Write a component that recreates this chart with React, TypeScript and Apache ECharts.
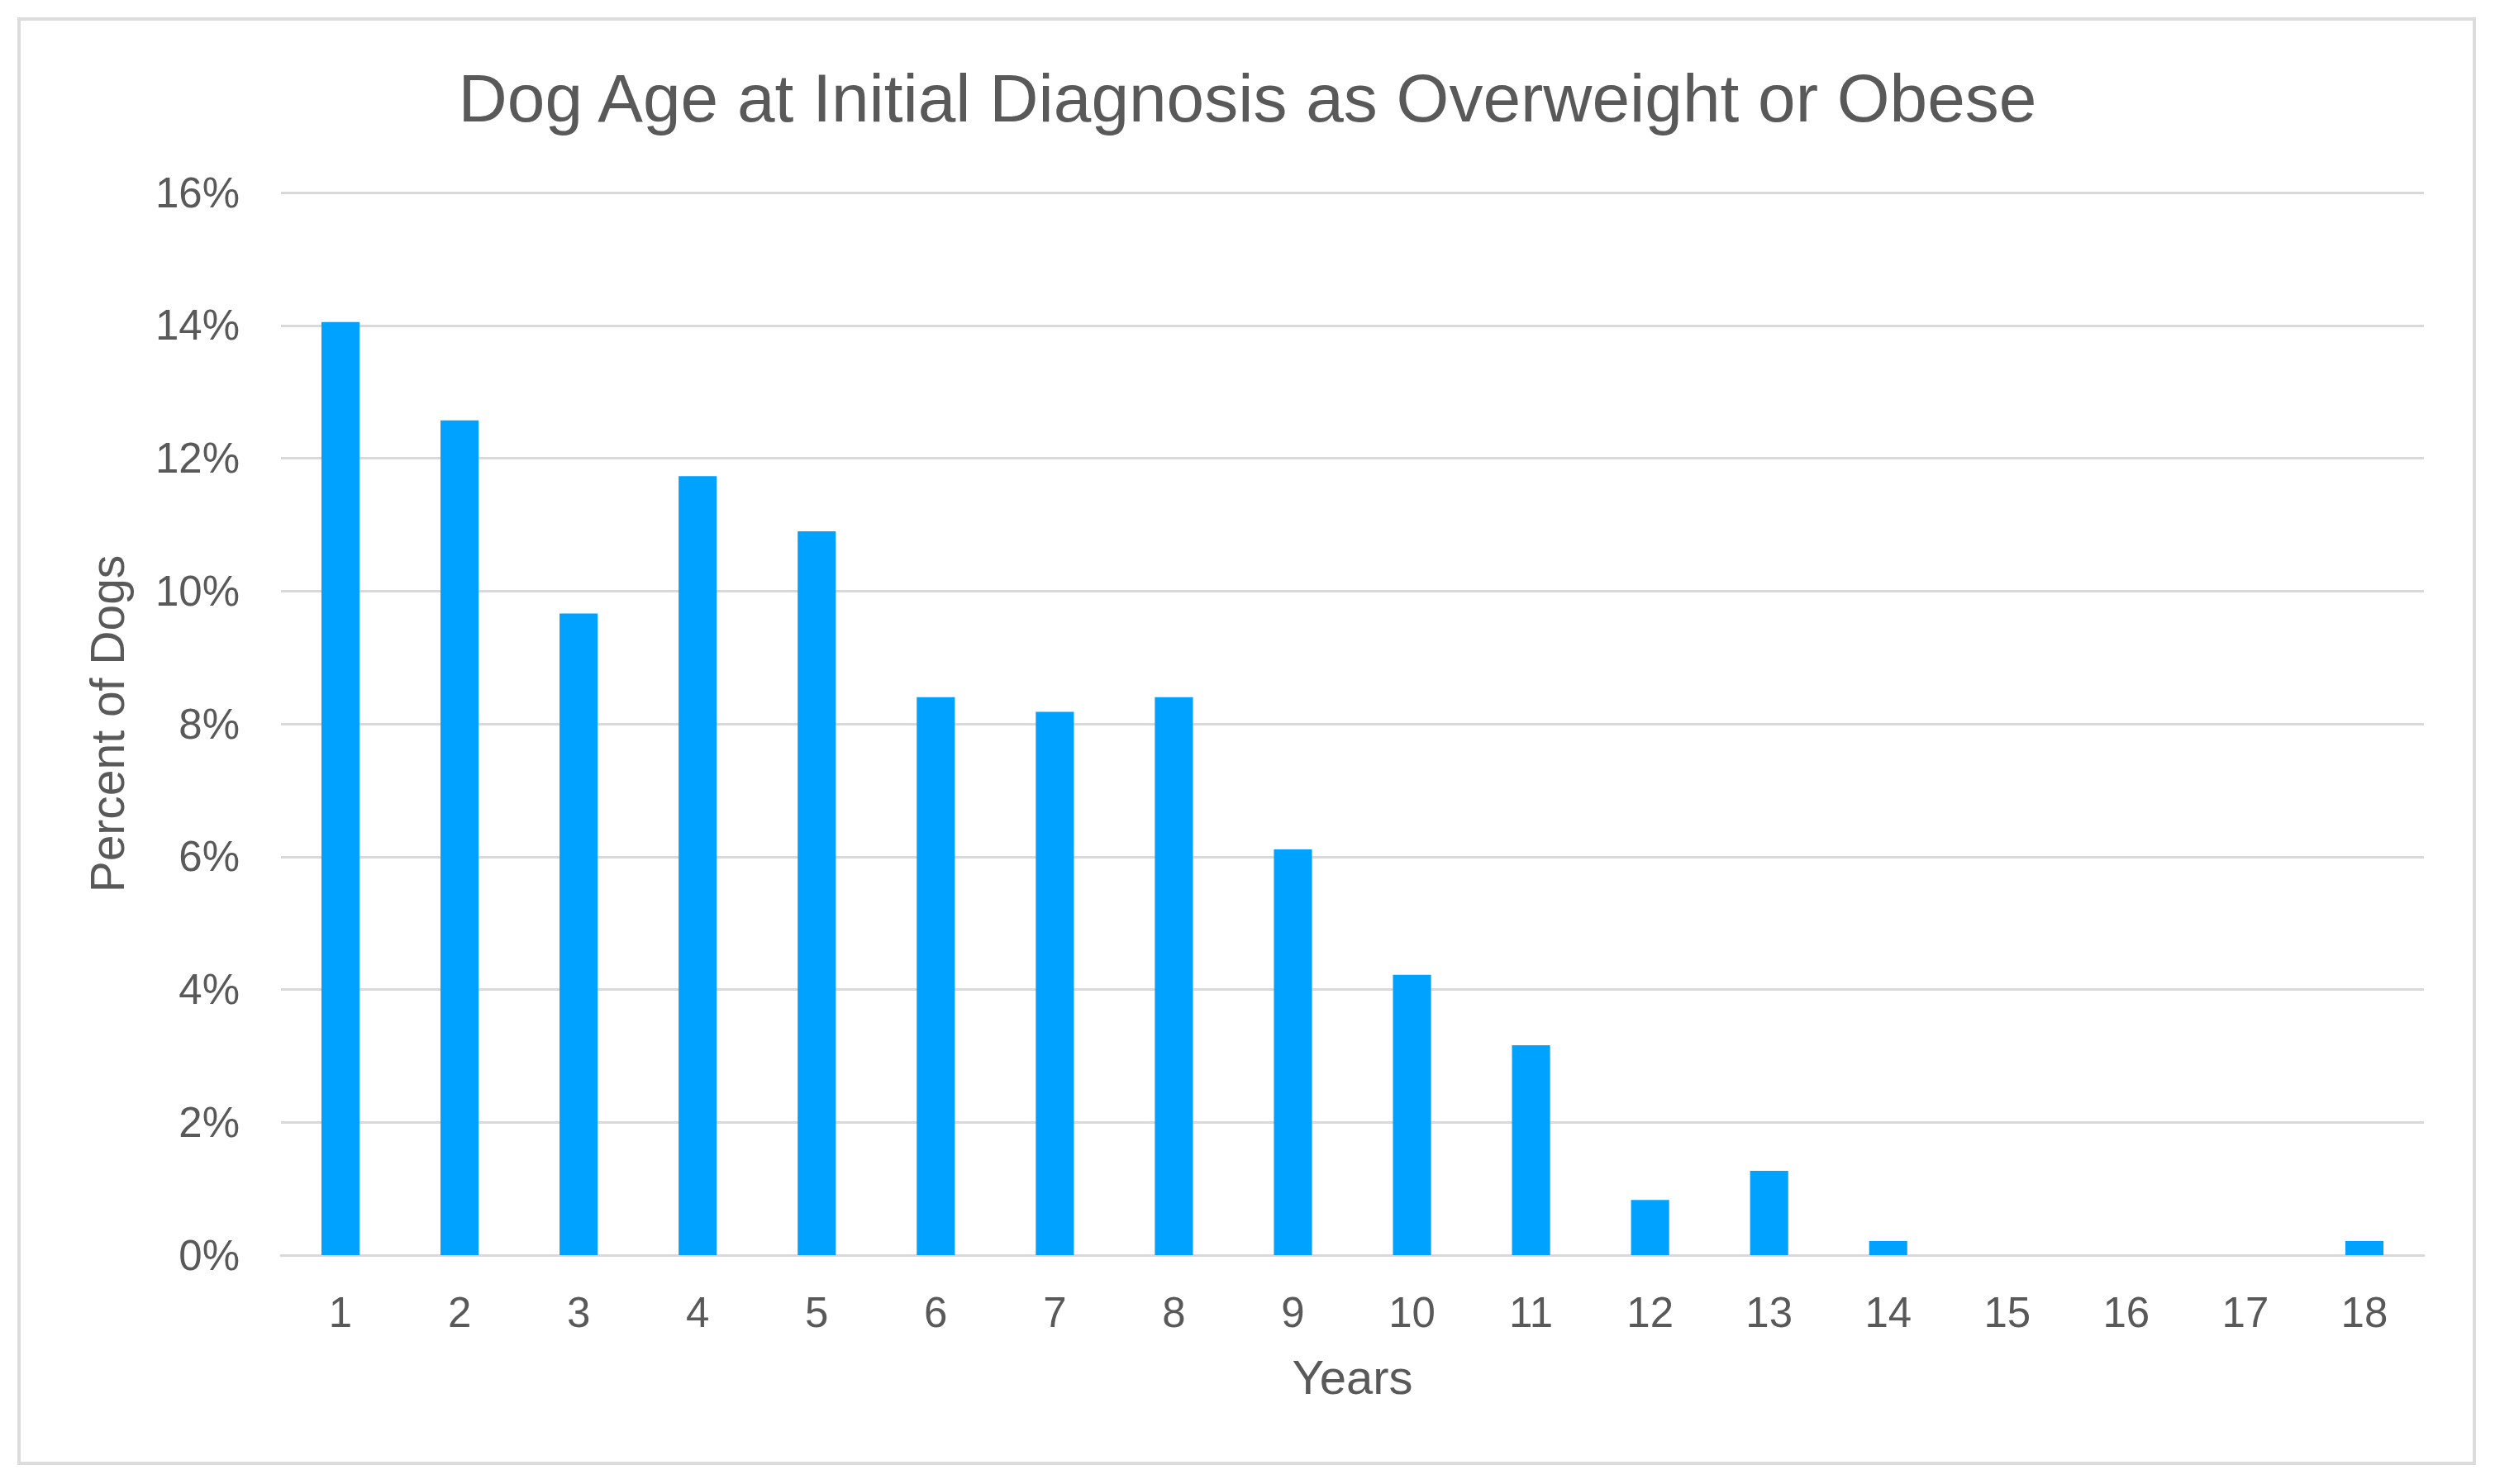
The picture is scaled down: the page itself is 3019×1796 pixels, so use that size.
import React, { useEffect, useRef } from "react";
import * as echarts from "echarts";

const years = ["1", "2", "3", "4", "5", "6", "7", "8", "9", "10", "11", "12", "13", "14", "15", "16", "17", "18"];
const percentOfDogs = [14.05, 12.57, 9.66, 11.73, 10.9, 8.4, 8.18, 8.4, 6.11, 4.22, 3.16, 0.83, 1.27, 0.21, 0, 0, 0, 0.21];
const titleText = "Dog Age at Initial Diagnosis as Overweight or Obese";
const xName = "Years";
const yName = "Percent of Dogs";

const W = 3019;
const H = 1796;
const FONT = "'Liberation Sans', Arial, Helvetica, sans-serif";
const TEXT = "#595959";
const GRID = "#d9d9d9";

export default function App() {
  const ref = useRef<HTMLDivElement>(null);
  useEffect(() => {
    document.body.style.margin = "0";
    const chart = echarts.init(ref.current!, null, { renderer: "svg", width: W, height: H });
    chart.setOption({
      animation: false,
      backgroundColor: "#ffffff",
      textStyle: { fontFamily: FONT, color: TEXT },
      title: {
        text: titleText,
        left: "center",
        top: 72,
        textStyle: { fontFamily: FONT, fontSize: 82, fontWeight: "normal", color: TEXT },
      },
      graphic: [
        {
          type: "rect",
          shape: { x: 23, y: 23, width: 2971, height: 1748 },
          style: { fill: "none", stroke: "#dcdcdc", lineWidth: 4 },
          silent: true,
        },
      ],
      grid: { left: 340, right: 86, top: 233, bottom: 277, containLabel: false },
      xAxis: {
        type: "category",
        data: years,
        boundaryGap: true,
        name: xName,
        nameLocation: "middle",
        nameGap: 118,
        nameTextStyle: { fontFamily: FONT, fontSize: 58, color: TEXT },
        axisLine: { show: true, lineStyle: { color: GRID, width: 3 } },
        axisTick: { show: false },
        axisLabel: { margin: 44, fontFamily: FONT, fontSize: 51, color: TEXT },
      },
      yAxis: {
        type: "value",
        min: 0,
        max: 16,
        interval: 2,
        name: yName,
        nameLocation: "middle",
        nameGap: 182,
        nameRotate: 90,
        nameTextStyle: { fontFamily: FONT, fontSize: 57, color: TEXT },
        axisLine: { show: false },
        axisTick: { show: false },
        axisLabel: { margin: 50, fontFamily: FONT, fontSize: 51, color: TEXT, formatter: "{value}%" },
        splitLine: { show: true, lineStyle: { color: GRID, width: 3 } },
      },
      series: [
        {
          type: "bar",
          data: percentOfDogs,
          barWidth: "32%",
          itemStyle: { color: "#00a2ff" },
          emphasis: { disabled: true },
        },
      ],
    });
    return () => chart.dispose();
  }, []);
  return <div ref={ref} style={{ width: W, height: H, background: "#fff" }} />;
}
